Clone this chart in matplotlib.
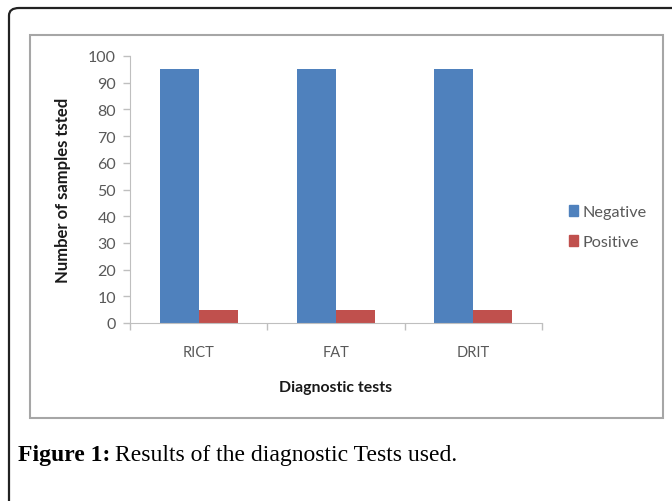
import matplotlib
matplotlib.use("Agg")
import matplotlib.pyplot as plt
import matplotlib.transforms as mtransforms
from matplotlib.patches import FancyBboxPatch, Rectangle, Patch

# donnees
tests = ["RICT", "FAT", "DRIT"]
negative = [95, 95, 95]
positive = [5, 5, 5]
yticks = [0, 10, 20, 30, 40, 50, 60, 70, 80, 90, 100]

W, H = 672, 502
fig = plt.figure(figsize=(W / 100, H / 100), dpi=100)
plt.rcParams['font.family'] = ['Lato', 'DejaVu Sans']

def fx(px):
    return px / W

def fy(py):
    return 1 - py / H

# cadre exterieur arrondi (deborde en bas et a droite)
fig.patches.append(FancyBboxPatch((fx(9), fy(530)), fx(700), fy(9) - fy(530),
                                  boxstyle="round,pad=0,rounding_size=0.015",
                                  transform=fig.transFigure, fill=False,
                                  edgecolor="#222222", lw=1.6, zorder=0))
# cadre du graphique
fig.patches.append(Rectangle((fx(30), fy(419)), fx(663) - fx(30), fy(36) - fy(419),
                             transform=fig.transFigure, fill=False,
                             edgecolor="#a6a6a6", lw=1.5, zorder=0))

ax = fig.add_axes([fx(130), fy(324), fx(542) - fx(130), fy(57) - fy(324)])

grey = "#595959"
axis_col = "#bfbfbf"
bw = 0.285
x = range(len(tests))
ax.bar([i - bw / 2 for i in x], negative, bw, color="#4f81bd", label="Negative")
ax.bar([i + bw / 2 for i in x], positive, bw, color="#c0504d", label="Positive")

ax.set_xlim(-0.5, 2.5)
ax.set_ylim(0, 100)
ax.set_yticks(yticks)
ax.tick_params(axis="y", colors=axis_col, labelcolor=grey, labelsize=11.5,
               length=5, width=1, direction="out", pad=5)
for s in ["top", "right"]:
    ax.spines[s].set_visible(False)
ax.spines["left"].set_color(axis_col)
ax.spines["bottom"].set_color(axis_col)

# graduations entre les categories
ax.set_xticks([-0.5, 0.5, 1.5, 2.5])
ax.set_xticklabels([])
ax.tick_params(axis="x", colors=axis_col, length=5, width=1, direction="out")
trans = mtransforms.blended_transform_factory(ax.transData, fig.transFigure)
for i, t in enumerate(tests):
    ax.text(i, fy(353), t, transform=trans, ha="center", va="center",
            fontsize=10.5, color=grey)

fig.text(fx(336), fy(388), "Diagnostic tests", ha="center", va="center",
         fontsize=11.4, fontweight="bold", color="#1a1a1a")
fig.text(fx(63), fy(190), "Number of samples tsted", ha="center", va="center",
         rotation=90, fontsize=12, fontweight="bold", color="#1a1a1a")

handles = [Patch(color="#4f81bd", label="Negative"), Patch(color="#c0504d", label="Positive")]
fig.legend(handles=handles, loc="center left", bbox_to_anchor=(fx(561), fy(228)),
           frameon=False, fontsize=11.7, handlelength=0.55, handleheight=0.65,
           handletextpad=0.3, labelspacing=0.95, borderpad=0, labelcolor=grey)

# legende de la figure, "Figure 1:" en gras
t1 = fig.text(fx(18), fy(456), "Figure 1:", ha="left", va="center", fontsize=17,
              fontweight="bold", family="Liberation Serif", color="black")
fig.canvas.draw()
bb = t1.get_window_extent(fig.canvas.get_renderer())
fig.text(bb.x1 / W + fx(5), fy(456), "Results of the diagnostic Tests used.", ha="left",
         va="center", fontsize=17, family="Liberation Serif", color="black")

plt.savefig("out.png", dpi=100)
